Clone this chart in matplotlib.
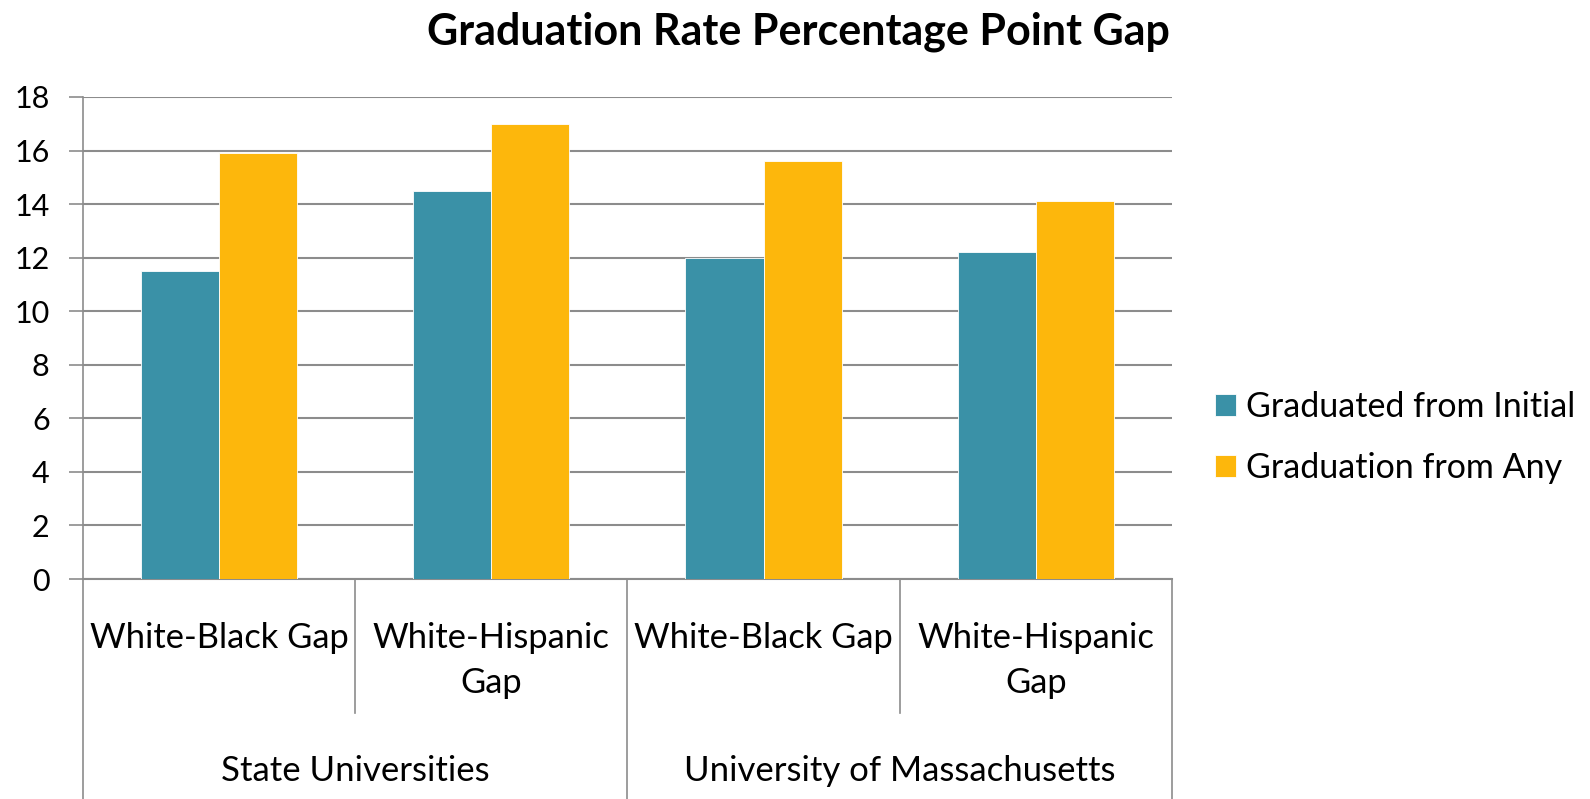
import numpy as np
import matplotlib.pyplot as plt
from matplotlib.lines import Line2D

plt.rcParams['font.family'] = ['Lato', 'DejaVu Sans']

# data
groups = ['State Universities', 'University of Massachusetts']
categories = ['White-Black Gap', 'White-Hispanic\nGap', 'White-Black Gap', 'White-Hispanic\nGap']
series_names = ['Graduated from Initial', 'Graduation from Any']
initial = [11.5, 14.5, 12.0, 12.2]
any_inst = [15.9, 17.0, 15.6, 14.1]
colors = ['#3A91A7', '#FDB70C']

fig = plt.figure(figsize=(15.9, 7.99), dpi=100)
ax = fig.add_axes([0.0522, 0.2753, 0.6848, 0.6033])

x = np.arange(len(categories))
w = 0.287
ax.bar(x - w / 2, initial, w, color=colors[0], edgecolor='white', linewidth=0.6,
       label=series_names[0], zorder=3)
ax.bar(x + w / 2, any_inst, w, color=colors[1], edgecolor='white', linewidth=0.6,
       label=series_names[1], zorder=3)

ax.set_xlim(-0.5, len(categories) - 0.5)
ax.set_ylim(0, 18)
ax.set_yticks(range(0, 19, 2))
ax.yaxis.grid(True, color='#8c8c8c', linewidth=1.5, zorder=0)
ax.tick_params(axis='y', labelsize=22, length=10, width=1.2, color='#8c8c8c', pad=14)
ax.set_xticks([])
for s in ['top', 'right']:
    ax.spines[s].set_visible(False)
ax.spines['left'].set_color('#8c8c8c')
ax.spines['bottom'].set_color('#8c8c8c')
ax.spines['left'].set_linewidth(1.2)
ax.spines['bottom'].set_linewidth(1.5)

# multi-level category axis
trans = ax.get_xaxis_transform()
for i, lab in enumerate(categories):
    ax.text(i, -0.09, lab, transform=trans, ha='center', va='top',
            fontsize=24.8, linespacing=1.5)
for xb in [0.5, 2.5]:
    ax.add_line(Line2D([xb, xb], [0, -0.278], transform=trans, color='#8c8c8c',
                       linewidth=1.2, clip_on=False))
for xb in [-0.5, 1.5, 3.5]:
    ax.add_line(Line2D([xb, xb], [0, -0.46], transform=trans, color='#8c8c8c',
                       linewidth=1.2, clip_on=False))
for j, g in enumerate(groups):
    ax.text(2 * j + 0.5, -0.398, g, transform=trans, ha='center', va='center',
            fontsize=25)

fig.text(0.502, 0.96, 'Graduation Rate Percentage Point Gap', ha='center', va='center',
         fontsize=31, fontweight='bold')

fig.legend(loc='center left', bbox_to_anchor=(0.745, 0.453), frameon=False,
           fontsize=24.5, handlelength=0.62, handleheight=0.62, handletextpad=0.3,
           labelspacing=0.85)

fig.savefig('out.png', dpi=100)
